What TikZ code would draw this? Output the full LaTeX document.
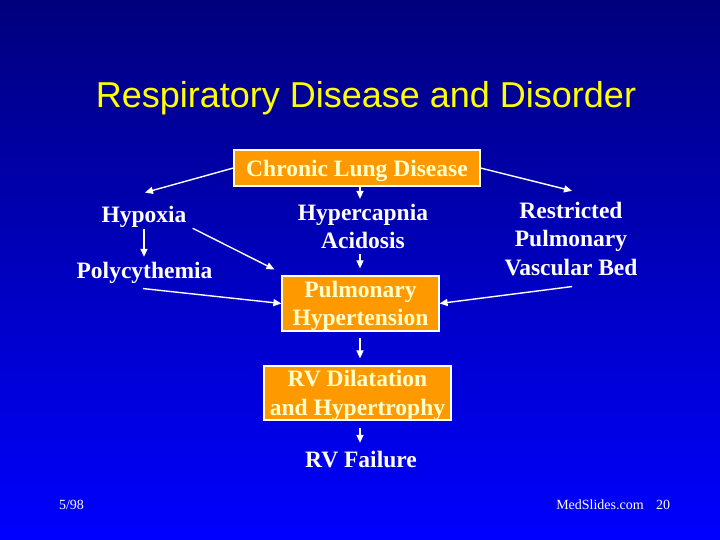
\documentclass[tikz,border=0pt]{standalone}
\usepackage{fontspec}
\setmainfont{Liberation Serif}
\newfontfamily\titlefont{Liberation Sans}
\usetikzlibrary{arrows.meta}
\definecolor{bgtop}{RGB}{0,0,125}
\definecolor{bgmid}{RGB}{0,0,205}
\definecolor{bgbot}{RGB}{0,0,255}
\definecolor{boxfill}{RGB}{255,153,0}
\definecolor{boxtext}{RGB}{255,255,204}
\definecolor{titlecol}{RGB}{255,255,0}
\tikzset{
  txt/.style={text=white, font=\bfseries\fontsize{23.5}{28.5}\selectfont, align=center, inner sep=0pt, text depth=0pt},
  obox/.style={draw=white, line width=1.2pt, fill=boxfill, text=boxtext, font=\bfseries\fontsize{23.5}{28.5}\selectfont, align=center, inner sep=0pt, text depth=0pt},
  arr/.style={draw=white, line width=1.4pt, -{Triangle[length=8pt,width=7pt]}},
  foot/.style={text=white, font=\fontsize{14}{16}\selectfont, inner sep=0pt, anchor=base}
}
\begin{document}
\begin{tikzpicture}[x=1pt,y=-1pt]
\useasboundingbox (0,0) rectangle (720,540);
\shade[top color=bgtop, middle color=bgmid, bottom color=bgbot] (0,0) rectangle (720,540);
\node[text=titlecol, font=\titlefont\fontsize{36}{40}\selectfont, anchor=base, inner sep=0pt] (title) at (366,108) {Respiratory Disease and Disorder};
\node[obox, minimum width=246pt, minimum height=36pt] (cld) at (357,168) {Chronic Lung Disease};
\node[txt] (hyp) at (144,213.9) {Hypoxia};
\node[txt] (poly) at (144.5,270.2) {Polycythemia};
\node[txt] (hyc) at (363,226.5) {Hypercapnia\\Acidosis};
\node[txt] (rpvb) at (571,238.7) {Restricted\\Pulmonary\\Vascular Bed};
\node[obox, minimum width=157pt, minimum height=55pt] (ph) at (360.5,303.5) {Pulmonary\\Hypertension};
\node[obox, minimum width=187pt, minimum height=54pt] (rvd) at (357.5,393) {RV Dilatation\\and Hypertrophy};
\node[txt] (rvf) at (361,459.2) {RV Failure};
\node[foot] (date) at (71.5,509) {5/98};
\node[foot] (med) at (600,509) {MedSlides.com};
\node[foot] (num) at (663,509) {20};
% connectors
\draw[arr] (cld.west) -- ([xshift=1pt,yshift=13pt]hyp.north);
\draw[arr] (cld.east) -- ([xshift=1pt,yshift=11pt]rpvb.north);
\draw[arr] ([xshift=3pt]cld.south) -- ([xshift=-3pt,yshift=5pt]hyc.north);
\draw[arr] ([yshift=-7pt]hyp.south) -- ([xshift=-0.5pt,yshift=5pt]poly.north);
\draw[arr] ([xshift=6pt,yshift=-6pt]hyp.south east) -- ([xshift=-7pt,yshift=6pt]ph.north west);
\draw[arr] ([xshift=-3pt,yshift=-5pt]hyc.south) -- ([xshift=-0.5pt,yshift=7pt]ph.north);
\draw[arr] ([xshift=-1.5pt,yshift=-10pt]poly.south) -- (ph.west);
\draw[arr] ([xshift=1pt,yshift=-11pt]rpvb.south) -- (ph.east);
\draw[arr] ([xshift=-0.5pt,yshift=-6pt]ph.south) -- ([xshift=2.5pt,yshift=7pt]rvd.north);
\draw[arr] ([xshift=2.5pt,yshift=-7pt]rvd.south) -- ([xshift=-1pt,yshift=8pt]rvf.north);
\end{tikzpicture}
\end{document}
